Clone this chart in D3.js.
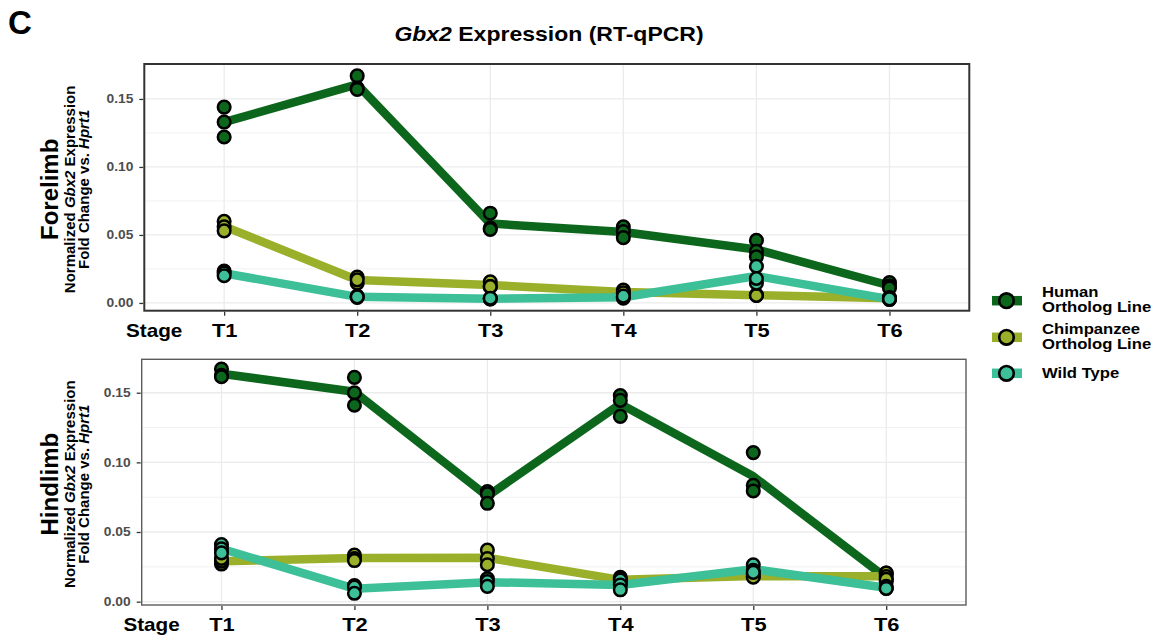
<!DOCTYPE html>
<html>
<head>
<meta charset="utf-8">
<script src="https://cdn.jsdelivr.net/npm/d3@7"></script>
<style>
  body { margin: 0; background: #fff; font-family: Arial, "Liberation Sans", sans-serif; }
</style>
</head>
<body>
<div id="chart"></div>
<script>
// stages on the x axis
const stages = ["T1", "T2", "T3", "T4", "T5", "T6"];
const groups = ["Human Ortholog Line", "Chimpanzee Ortholog Line", "Wild Type"];
const groupColors = ["#0c671c", "#9aaf2a", "#3dbf98"];
const yTicks = [0, 0.05, 0.10, 0.15];
const yMinor = [0.025, 0.075, 0.125];

// replicate values per stage
const foreHuman = [[0.144, 0.133, 0.122], [0.167, 0.158, 0.157], [0.066, 0.055, 0.054],
                   [0.056, 0.0525, 0.048], [0.046, 0.038, 0.034], [0.015, 0.0125, 0.011]];
const foreChimp = [[0.060, 0.056, 0.053], [0.019, 0.0145, 0.017], [0.0155, 0.012, 0.012],
                   [0.0095, 0.007, 0.0075], [0.006, 0.0055, 0.0055], [0.004, 0.003, 0.0035]];
const foreWT    = [[0.0235, 0.022, 0.020], [0.005, 0.004, 0.0045], [0.003, 0.003, 0.0035],
                   [0.0035, 0.004, 0.005], [0.027, 0.0145, 0.018], [0.003, 0.0025, 0.003]];

const hindHuman = [[0.167, 0.1625, 0.1615], [0.161, 0.150, 0.141], [0.079, 0.0775, 0.0706],
                   [0.148, 0.1445, 0.133], [0.107, 0.0835, 0.0795], [0.0205, 0.016, 0.0145]];
const hindChimp = [[0.027, 0.029, 0.031], [0.0335, 0.031, 0.0295], [0.037, 0.031, 0.0265],
                   [0.0175, 0.016, 0.0135], [0.0195, 0.018, 0.0175], [0.0205, 0.018, 0.016]];
const hindWT    = [[0.041, 0.038, 0.035], [0.0115, 0.0105, 0.006], [0.0165, 0.0145, 0.011],
                   [0.0155, 0.012, 0.0085], [0.0265, 0.0225, 0.021], [0.011, 0.0095, 0.0095]];

const W = 1159, H = 643;
const textStretch = 1.15; // the reference text runs wider than Liberation Sans

const svg = d3.select("#chart")
  .append("svg")
  .attr("width", W)
  .attr("height", H)
  .style("font-family", "Arial, 'Liberation Sans', sans-serif");

// widen horizontal text a little, keeping its anchor in place
function stretch(sel) {
  sel.each(function() {
    const t = d3.select(this);
    const x = +t.attr("x") || 0;
    t.attr("x", x / textStretch).attr("transform", `scale(${textStretch},1)`);
    t.selectAll("tspan").each(function() {
      const ts = d3.select(this);
      if (ts.attr("x") !== null) ts.attr("x", +ts.attr("x") / textStretch);
    });
  });
}

// panel letter
svg.append("text")
  .attr("x", 8)
  .attr("y", 34)
  .style("font-size", "33px")
  .style("font-weight", "bold")
  .text("C");

// title
const title = svg.append("text")
  .attr("x", 549)
  .attr("y", 41)
  .attr("text-anchor", "middle")
  .style("font-size", "20px")
  .style("font-weight", "bold");
title.append("tspan").style("font-style", "italic").text("Gbx2");
title.append("tspan").text(" Expression (RT-qPCR)");
stretch(title);

const panels = [
  { name: "Forelimb", data: [foreHuman, foreChimp, foreWT],
    x0: 144.3, x1: 969.3, y0: 64, y1: 310.7, yDomain: [-0.0057, 0.1757],
    border: "#333333", borderWidth: 2 },
  { name: "Hindlimb", data: [hindHuman, hindChimp, hindWT],
    x0: 141.7, x1: 966, y0: 359.3, y1: 605, yDomain: [-0.0024, 0.174],
    border: "#5c5c5c", borderWidth: 1.4 }
];

function drawPanel(p) {
  const x = d3.scalePoint().domain(stages).range([p.x0, p.x1]).padding(0.6);
  const y = d3.scaleLinear().domain(p.yDomain).range([p.y1, p.y0]);
  const g = svg.append("g");

  // grid
  g.append("g").selectAll("line")
    .data(yMinor)
    .join("line")
    .attr("x1", p.x0).attr("x2", p.x1)
    .attr("y1", d => y(d)).attr("y2", d => y(d))
    .attr("stroke", "#ebebeb").attr("stroke-width", 0.7);
  g.append("g").selectAll("line")
    .data(yTicks)
    .join("line")
    .attr("x1", p.x0).attr("x2", p.x1)
    .attr("y1", d => y(d)).attr("y2", d => y(d))
    .attr("stroke", "#ebebeb").attr("stroke-width", 1.3);
  g.append("g").selectAll("line")
    .data(stages)
    .join("line")
    .attr("x1", d => x(d)).attr("x2", d => x(d))
    .attr("y1", p.y0).attr("y2", p.y1)
    .attr("stroke", "#ebebeb").attr("stroke-width", 1.3);

  // mean lines
  const line = d3.line()
    .x((d, i) => x(stages[i]))
    .y(d => y(d3.mean(d)));

  g.append("g").selectAll("path")
    .data(p.data)
    .join("path")
    .attr("d", d => line(d))
    .attr("fill", "none")
    .attr("stroke", (d, i) => groupColors[i])
    .attr("stroke-width", 8.5)
    .attr("stroke-linejoin", "round");

  // replicate points
  p.data.forEach((series, gi) => {
    const pts = [];
    series.forEach((vals, si) => vals.forEach(v => pts.push({ stage: stages[si], v })));
    g.append("g").selectAll("circle")
      .data(pts)
      .join("circle")
      .attr("cx", d => x(d.stage))
      .attr("cy", d => y(d.v))
      .attr("r", 6.3)
      .attr("fill", groupColors[gi])
      .attr("stroke", "#000")
      .attr("stroke-width", 2.5);
  });

  // border
  g.append("rect")
    .attr("x", p.x0).attr("y", p.y0)
    .attr("width", p.x1 - p.x0).attr("height", p.y1 - p.y0)
    .attr("fill", "none")
    .attr("stroke", p.border)
    .attr("stroke-width", p.borderWidth);

  // y axis
  const yAxis = g.append("g")
    .attr("transform", `translate(${p.x0 - 1},0)`)
    .call(d3.axisLeft(y).tickValues(yTicks).tickFormat(d3.format(".2f")).tickSize(4).tickPadding(6));
  yAxis.select(".domain").remove();
  yAxis.selectAll("line").attr("stroke", "#333").attr("stroke-width", 1.3);
  yAxis.selectAll("text")
    .attr("fill", "#4d4d4d")
    .style("font-size", "12px")
    .style("font-weight", "bold")
    .style("font-family", "Arial, 'Liberation Sans', sans-serif")
    .call(stretch);

  // x axis
  const xAxis = g.append("g")
    .attr("transform", `translate(0,${p.y1 + 1})`)
    .call(d3.axisBottom(x).tickSize(4).tickPadding(8));
  xAxis.select(".domain").remove();
  xAxis.selectAll("line").attr("stroke", "#333").attr("stroke-width", 1.3);
  xAxis.selectAll("text")
    .attr("fill", "#000")
    .style("font-size", "19px")
    .style("font-weight", "bold")
    .style("font-family", "Arial, 'Liberation Sans', sans-serif")
    .call(stretch);

  g.append("text")
    .attr("x", p.x0 + 38)
    .attr("y", p.y1 + 26)
    .attr("text-anchor", "end")
    .style("font-size", "18px")
    .style("font-weight", "bold")
    .text("Stage")
    .call(stretch);

  // y titles
  const cy = (p.y0 + p.y1) / 2 + 2;
  g.append("text")
    .attr("transform", `translate(58,${cy}) rotate(-90)`)
    .attr("text-anchor", "middle")
    .style("font-size", "24px")
    .style("font-weight", "bold")
    .text(p.name);

  const t1 = g.append("text")
    .attr("transform", `translate(75,${cy}) rotate(-90)`)
    .attr("text-anchor", "middle")
    .style("font-size", "15px")
    .style("font-weight", "bold");
  t1.append("tspan").text("Normalized ");
  t1.append("tspan").style("font-style", "italic").text("Gbx2");
  t1.append("tspan").text(" Expression");

  const t2 = g.append("text")
    .attr("transform", `translate(89,${cy}) rotate(-90)`)
    .attr("text-anchor", "middle")
    .style("font-size", "15px")
    .style("font-weight", "bold");
  t2.append("tspan").text("Fold Change vs. ");
  t2.append("tspan").style("font-style", "italic").text("Hprt1");
}

panels.forEach(drawPanel);

// legend
const legendRows = [
  { lines: ["Human", "Ortholog Line"], cy: 300.7 },
  { lines: ["Chimpanzee", "Ortholog Line"], cy: 337.3 },
  { lines: ["Wild Type"], cy: 373.3 }
];

const legend = svg.append("g");
legendRows.forEach((row, i) => {
  legend.append("line")
    .attr("x1", 992).attr("x2", 1022)
    .attr("y1", row.cy).attr("y2", row.cy)
    .attr("stroke", groupColors[i])
    .attr("stroke-width", 9.5);
  legend.append("circle")
    .attr("cx", 1006.5).attr("cy", row.cy)
    .attr("r", 7.3)
    .attr("fill", groupColors[i])
    .attr("stroke", "#000")
    .attr("stroke-width", 2.6);
  const t = legend.append("text")
    .attr("x", 1042)
    .style("font-size", "14.5px")
    .style("font-weight", "bold");
  if (row.lines.length === 2) {
    t.append("tspan").attr("x", 1042).attr("y", row.cy - 3.5).text(row.lines[0]);
    t.append("tspan").attr("x", 1042).attr("y", row.cy + 11.5).text(row.lines[1]);
  } else {
    t.append("tspan").attr("x", 1042).attr("y", row.cy + 5).text(row.lines[0]);
  }
  stretch(t);
});
</script>
</body>
</html>
